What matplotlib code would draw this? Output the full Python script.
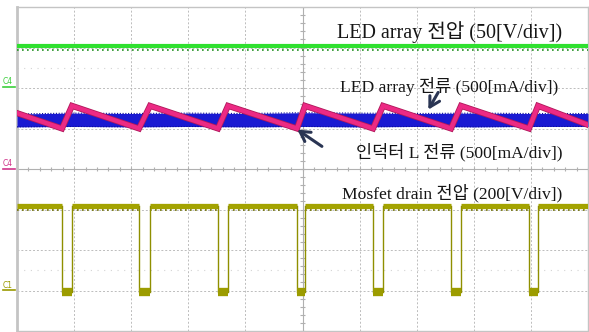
import matplotlib.pyplot as plt
from matplotlib.lines import Line2D

# all values in scope divisions (x: 0..10, y: -4..4)
green_x = [0, 10]
green_y = [3.04, 3.04]

blue_x = [0, 1, 2, 3, 4, 5, 6, 7, 8, 9, 10]
blue_top = [1.36, 1.38, 1.37, 1.38, 1.37, 1.39, 1.38, 1.37, 1.38, 1.37, 1.37]
blue_bot = [1.04, 1.05, 1.04, 1.05, 1.04, 1.05, 1.04, 1.05, 1.04, 1.05, 1.05]

# pink inductor current: trough / peak times and levels
pink_start = 1.38
pink_end = 1.09
pink_trough_x = [0.788, 2.137, 3.520, 4.904, 6.235, 7.601, 8.967]
pink_peak_x = [0.963, 2.329, 3.695, 5.044, 6.410, 7.776, 9.124]
pink_lo = 1.0
pink_hi = 1.56

# mosfet drain voltage
mos_fall = [0.788, 2.137, 3.520, 4.904, 6.235, 7.601, 8.967]
mos_rise = [0.963, 2.329, 3.695, 5.044, 6.410, 7.776, 9.124]
mos_hi = -0.91
mos_lo = -3.03

labels = ['LED array 전압 (50[V/div])', 'LED array 전류 (500[mA/div])',
          '인덕터 L 전류 (500[mA/div])', 'Mosfet drain 전압 (200[V/div])']
label_x = [9.545, 9.475, 9.545, 9.545]
label_y = [3.235, 1.901, 0.296, -0.716]
label_size = [14.5, 12.6, 12.6, 12.6]

fig = plt.figure(figsize=(5.89, 3.32), dpi=100)
ax = fig.add_axes([17 / 589, 1 / 332, 571 / 589, 324 / 332])
ax.set_xlim(0, 10)
ax.set_ylim(-4, 4)
ax.set_xticks(range(11))
ax.set_yticks(range(-4, 5))
ax.tick_params(length=0, labelbottom=False, labelleft=False)
ax.grid(True, color='#bcbcbc', linestyle=(0, (2, 2)), lw=0.7)
for s in ax.spines.values():
    s.set_color('#c4c4c4')
    s.set_linewidth(1.0)
ax.spines['left'].set_linewidth(2.0)

# center axes with minor ticks
ax.axhline(0, color='#b0b0b0', lw=0.8)
ax.axvline(5, color='#b0b0b0', lw=0.8)
mx = [i * 0.2 for i in range(51)]
my = [-4 + i * 0.2 for i in range(41)]
ax.vlines(mx, -0.06, 0.06, color='#b0b0b0', lw=0.8)
ax.hlines(my, 4.95, 5.05, color='#b0b0b0', lw=0.8)
for yy in [2.5, -2.5]:
    ax.axhline(yy, color='#d4d4d4', lw=0.8, linestyle=(0, (1, 5)))

# green trace
ax.plot(green_x, green_y, color='#2fe02f', lw=3.0, zorder=3)
ax.plot(green_x, [g - 0.1 for g in green_y], color='#1f8f1f', lw=1.2,
        linestyle=(0, (1, 2)), zorder=3)

# blue trace
ax.fill_between(blue_x, blue_bot, blue_top, color='#1a1ad2', lw=0, zorder=3)
ax.plot(blue_x, blue_top, color='#0c0c9a', lw=0.8, linestyle=(0, (1, 1.5)), zorder=3)
ax.plot(blue_x, blue_bot, color='#0c0c9a', lw=0.8, linestyle=(0, (1, 1.5)), zorder=3)

# pink sawtooth
px = [0]
py = [pink_start]
for t, p in zip(pink_trough_x, pink_peak_x):
    px += [t, p]
    py += [pink_lo, pink_hi]
px.append(10)
py.append(pink_end)
ax.plot(px, py, color='#b0185a', lw=4.4, solid_joinstyle='miter', zorder=4)
ax.plot(px, py, color='#ec2a84', lw=3.2, solid_joinstyle='miter', zorder=4)

# mosfet square wave
olive = '#8f8f00'
edges = [0] + [v for pair in zip(mos_fall, mos_rise) for v in pair] + [10]
for i in range(0, len(edges), 2):
    ax.plot([edges[i], edges[i + 1]], [mos_hi, mos_hi], color='#a3a300',
            lw=3.8, solid_capstyle='butt', zorder=3)
    ax.plot([edges[i], edges[i + 1]], [mos_hi - 0.11, mos_hi - 0.11],
            color='#6f6f00', lw=1.2, linestyle=(0, (1, 2)), zorder=3)
for f, r in zip(mos_fall, mos_rise):
    ax.plot([f, f], [mos_hi, mos_lo], color=olive, lw=1.0, zorder=3)
    ax.plot([r, r], [mos_lo, mos_hi], color=olive, lw=1.0, zorder=3)
    ax.plot([f, r], [mos_lo, mos_lo], color='#9c9c00', lw=6, solid_capstyle='butt', zorder=3)

for t, x, y, fs in zip(labels, label_x, label_y, label_size):
    ax.text(x, y, t, ha='right', va='baseline', fontsize=fs, color='#151515',
            family=['Liberation Serif', 'Noto Sans CJK KR'], zorder=6)

# arrows
ax.annotate('', xy=(7.18, 1.407), xytext=(7.40, 1.95),
            arrowprops=dict(arrowstyle='->,head_length=0.7,head_width=0.4',
                            color='#2a3553', lw=2.2), zorder=6)
ax.annotate('', xy=(4.87, 1.01), xytext=(5.38, 0.52),
            arrowprops=dict(arrowstyle='->,head_length=0.7,head_width=0.4',
                            color='#2a3553', lw=2.2), zorder=6)

# channel markers on the left
for txt, yy, c in [('C4', 82, '#3ccf3c'), ('C4', 164, '#d0338a'), ('C1', 285, '#9a9a00')]:
    fig.text(3 / 589, 1 - yy / 332, txt, fontsize=5.5, color=c, va='center')
    fig.add_artist(Line2D([3 / 589, 15 / 589], [1 - (yy + 5) / 332] * 2, color=c, lw=1.2))

fig.savefig('out.png', dpi=100)
